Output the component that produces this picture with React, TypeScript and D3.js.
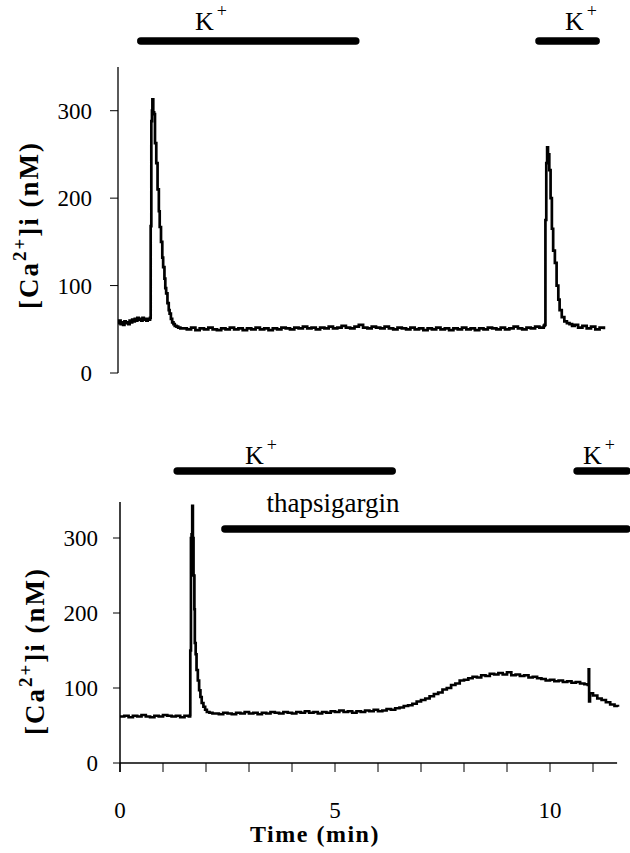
import React from "react";
import * as d3 from "d3";

// ---- data ----
// time (min), [Ca2+]i (nM)
const topTrace: [number, number][] = [
  [0.0, 57], [0.03, 60], [0.06, 56], [0.09, 58], [0.12, 55], [0.15, 59], [0.18, 57], [0.21, 58],
  [0.24, 56], [0.27, 60], [0.3, 58], [0.33, 61], [0.36, 59], [0.39, 62], [0.42, 60], [0.45, 63],
  [0.48, 61], [0.51, 62], [0.54, 60], [0.57, 63], [0.6, 61], [0.63, 62], [0.66, 60], [0.69, 62],
  [0.72, 61], [0.745, 63],
  [0.76, 168], [0.775, 288], [0.79, 300], [0.8, 313], [0.82, 298], [0.84, 296], [0.86, 263],
  [0.89, 240], [0.92, 210], [0.95, 185], [0.97, 167], [1.0, 150], [1.03, 132], [1.05, 121],
  [1.08, 108], [1.1, 97], [1.12, 91], [1.15, 80], [1.18, 72], [1.2, 68], [1.23, 62], [1.26, 58],
  [1.29, 56], [1.32, 54], [1.36, 53], [1.4, 52], [1.45, 51],
  [1.5, 51], [1.6, 50], [1.7, 52], [1.8, 49], [1.9, 51], [2.0, 50], [2.1, 52], [2.2, 50], [2.3, 49],
  [2.4, 51], [2.5, 50], [2.6, 52], [2.7, 50], [2.8, 51], [2.9, 49], [3.0, 51], [3.1, 50], [3.2, 52],
  [3.3, 50], [3.4, 51], [3.5, 49], [3.6, 51], [3.7, 50], [3.8, 52], [3.9, 51], [4.0, 50], [4.1, 52],
  [4.2, 51], [4.3, 53], [4.4, 51], [4.5, 52], [4.6, 50], [4.7, 52], [4.8, 51], [4.9, 53], [5.0, 51],
  [5.1, 52], [5.2, 54], [5.3, 52], [5.4, 51], [5.5, 53], [5.6, 55], [5.7, 52], [5.8, 51], [5.9, 53],
  [6.0, 52], [6.1, 51], [6.2, 53], [6.3, 51], [6.4, 50], [6.5, 52], [6.6, 51], [6.7, 50], [6.8, 52],
  [6.9, 50], [7.0, 51], [7.1, 49], [7.2, 51], [7.3, 50], [7.4, 52], [7.5, 50], [7.6, 51], [7.7, 49],
  [7.8, 51], [7.9, 50], [8.0, 52], [8.1, 50], [8.2, 51], [8.3, 49], [8.4, 51], [8.5, 50], [8.6, 52],
  [8.7, 51], [8.8, 50], [8.9, 52], [9.0, 50], [9.1, 51], [9.2, 53], [9.3, 51], [9.4, 50], [9.5, 52],
  [9.6, 51], [9.7, 53], [9.8, 52], [9.9, 54],
  [9.92, 55], [9.94, 175], [9.96, 240], [9.98, 258], [10.0, 250], [10.03, 232], [10.06, 200],
  [10.09, 165], [10.12, 140], [10.16, 126], [10.2, 100], [10.24, 84], [10.27, 72], [10.32, 64],
  [10.38, 59], [10.44, 57], [10.5, 56], [10.56, 54], [10.62, 55], [10.7, 52], [10.8, 54], [10.9, 51],
  [11.0, 53], [11.1, 50], [11.2, 52], [11.3, 50],
];

const bottomTrace: [number, number][] = [
  [0.0, 62], [0.1, 63], [0.2, 61], [0.3, 63], [0.4, 62], [0.5, 64], [0.6, 62], [0.7, 61], [0.8, 63],
  [0.9, 62], [1.0, 64], [1.1, 63], [1.2, 62], [1.3, 63], [1.4, 61], [1.5, 63], [1.6, 62],
  [1.63, 64], [1.635, 150], [1.65, 300], [1.665, 305], [1.68, 343], [1.695, 300], [1.71, 250],
  [1.73, 205], [1.74, 160], [1.76, 145], [1.78, 124], [1.81, 110], [1.84, 97], [1.87, 88], [1.9, 80],
  [1.94, 75], [1.98, 71], [2.02, 68], [2.08, 67], [2.15, 66],
  [2.2, 66], [2.3, 65], [2.4, 67], [2.5, 66], [2.6, 65], [2.7, 67], [2.8, 66], [2.9, 68], [3.0, 66],
  [3.1, 67], [3.2, 65], [3.3, 67], [3.4, 66], [3.5, 68], [3.6, 67], [3.7, 66], [3.8, 68], [3.9, 67],
  [4.0, 66], [4.1, 68], [4.2, 67], [4.3, 69], [4.4, 67], [4.5, 68], [4.6, 66], [4.7, 68], [4.8, 67],
  [4.9, 69], [5.0, 68], [5.1, 70], [5.2, 68], [5.3, 69], [5.4, 67], [5.5, 69], [5.6, 68], [5.7, 70],
  [5.8, 69], [5.9, 71], [6.0, 69],
  [6.1, 70], [6.2, 72], [6.3, 71], [6.4, 73], [6.5, 74], [6.6, 76], [6.7, 77], [6.8, 79], [6.9, 82],
  [7.0, 84], [7.1, 86], [7.2, 89], [7.3, 92], [7.4, 94], [7.5, 98], [7.6, 100], [7.7, 104], [7.8, 106],
  [7.9, 110], [8.0, 111], [8.1, 113], [8.2, 115], [8.3, 114], [8.4, 117], [8.5, 116], [8.6, 119],
  [8.7, 118], [8.8, 120], [8.9, 118], [9.0, 121], [9.1, 117], [9.2, 118], [9.3, 116], [9.4, 117],
  [9.5, 114], [9.6, 115], [9.7, 113], [9.8, 112], [9.9, 110], [10.0, 111], [10.1, 109], [10.2, 110],
  [10.3, 108], [10.4, 109], [10.5, 107], [10.6, 108], [10.7, 106], [10.8, 105], [10.88, 104],
  [10.9, 125], [10.91, 82], [10.93, 93], [11.0, 90], [11.1, 86], [11.2, 84], [11.3, 81], [11.4, 78],
  [11.5, 76], [11.58, 75],
];

// treatment bars: [label, start, end] in minutes
const topBars: [string, number, number][] = [
  ["K", 0.53, 5.53],
  ["K", 9.79, 11.12],
];
const bottomBars: [string, number, number][] = [
  ["K", 1.33, 6.33],
  ["K", 10.63, 11.79],
];
const thapsiBar: [string, number, number][] = [["thapsigargin", 2.44, 11.79]];

const yTicks = [0, 100, 200, 300];
const xTicks = [0, 1, 2, 3, 4, 5, 6, 7, 8, 9, 10, 11];
const xTickLabels = [0, 5, 10];
const xMax = 11.56;
const yMax = 350;

const FONT = "'Liberation Serif', 'Times New Roman', serif";

export default function App() {
  const xTop = d3.scaleLinear().domain([0, 1]).range([118, 161]);
  const xBot = d3.scaleLinear().domain([0, 1]).range([120, 163]);
  const yTop = d3.scaleLinear().domain([0, yMax]).range([373, 67]);
  const yBot = d3.scaleLinear().domain([0, yMax]).range([763, 500.5]);

  const lineTop = d3
    .line<[number, number]>()
    .x((d) => xTop(d[0]))
    .y((d) => yTop(d[1]))
    .curve(d3.curveStepAfter);
  const lineBot = d3
    .line<[number, number]>()
    .x((d) => xBot(d[0]))
    .y((d) => yBot(d[1]))
    .curve(d3.curveStepAfter);

  const kLabel = (left: number, baseline: number, key: string) => (
    <text key={key} x={left} y={baseline} fontFamily={FONT} fontSize={26} textAnchor="start">
      K<tspan fontSize={18} dx={3} dy={-13}>+</tspan>
    </text>
  );

  const yLabel = (x: number, cy: number) => (
    <text
      transform={`translate(${x},${cy}) rotate(-90)`}
      fontFamily={FONT}
      fontWeight="bold"
      fontSize={27}
      textAnchor="middle"
      letterSpacing={2}
    >
      [Ca<tspan fontSize={19} dy={-12}>2+</tspan>
      <tspan dy={12}>]i (nM)</tspan>
    </text>
  );

  const topLabelX = [195, 565];
  const botLabelX = [245, 583];

  return (
    <svg
      width={630}
      height={853}
      style={{ position: "absolute", left: 0, top: 0, background: "#fff" }}
    >
      <rect width={630} height={853} fill="#fff" />
      {/* ---------- TOP PANEL ---------- */}
      {topBars.map((b, i) => (
        <line
          key={"tb" + i}
          x1={xTop(b[1])}
          x2={xTop(b[2])}
          y1={41}
          y2={41}
          stroke="#000"
          strokeWidth={7.5}
          strokeLinecap="round"
        />
      ))}
      {topBars.map((b, i) => kLabel(topLabelX[i], 30, "tk" + i))}
      <line x1={118} x2={118} y1={67} y2={yTop(0)} stroke="#000" strokeWidth={1.3} />
      {yTicks.map((t) => (
        <g key={"yt" + t}>
          <line x1={110} x2={118} y1={yTop(t)} y2={yTop(t)} stroke="#000" strokeWidth={1} />
          <text
            x={92}
            y={yTop(t)}
            dy="0.35em"
            textAnchor="end"
            fontFamily={FONT}
            fontSize={23}
          >
            {t}
          </text>
        </g>
      ))}
      {yLabel(38, 225)}
      <path d={lineTop(topTrace) ?? ""} fill="none" stroke="#000" strokeWidth={2.7} />

      {/* ---------- BOTTOM PANEL ---------- */}
      {bottomBars.map((b, i) => (
        <line
          key={"bb" + i}
          x1={xBot(b[1])}
          x2={xBot(b[2])}
          y1={471}
          y2={471}
          stroke="#000"
          strokeWidth={7.5}
          strokeLinecap="round"
        />
      ))}
      {bottomBars.map((b, i) => kLabel(botLabelX[i], 464, "bk" + i))}
      {thapsiBar.map((b, i) => (
        <g key={"th" + i}>
          <line
            x1={xBot(b[1])}
            x2={xBot(b[2])}
            y1={529}
            y2={529}
            stroke="#000"
            strokeWidth={7.5}
            strokeLinecap="round"
          />
          <text x={333} y={512} fontFamily={FONT} fontSize={27} textAnchor="middle">
            {b[0]}
          </text>
        </g>
      ))}
      <line x1={120} x2={120} y1={502} y2={yBot(0) + 9} stroke="#000" strokeWidth={1.5} />
      <line x1={120} x2={xBot(xMax)} y1={yBot(0)} y2={yBot(0)} stroke="#000" strokeWidth={1.5} />
      {yTicks.map((t) => (
        <g key={"ybt" + t}>
          <line x1={113} x2={120} y1={yBot(t)} y2={yBot(t)} stroke="#000" strokeWidth={1} />
          <text
            x={98}
            y={yBot(t)}
            dy="0.35em"
            textAnchor="end"
            fontFamily={FONT}
            fontSize={23}
          >
            {t}
          </text>
        </g>
      ))}
      {xTicks.map((t) => (
        <line
          key={"xt" + t}
          x1={xBot(t)}
          x2={xBot(t)}
          y1={yBot(0)}
          y2={yBot(0) + 9}
          stroke="#000"
          strokeWidth={1}
        />
      ))}
      {xTickLabels.map((t) => (
        <text
          key={"xl" + t}
          x={xBot(t)}
          y={818}
          textAnchor="middle"
          fontFamily={FONT}
          fontSize={23}
        >
          {t}
        </text>
      ))}
      <text
        x={315}
        y={842}
        textAnchor="middle"
        fontFamily={FONT}
        fontWeight="bold"
        fontSize={24}
        letterSpacing={1.5}
      >
        Time (min)
      </text>
      {yLabel(44, 651)}
      <path d={lineBot(bottomTrace) ?? ""} fill="none" stroke="#000" strokeWidth={2.7} />
    </svg>
  );
}
